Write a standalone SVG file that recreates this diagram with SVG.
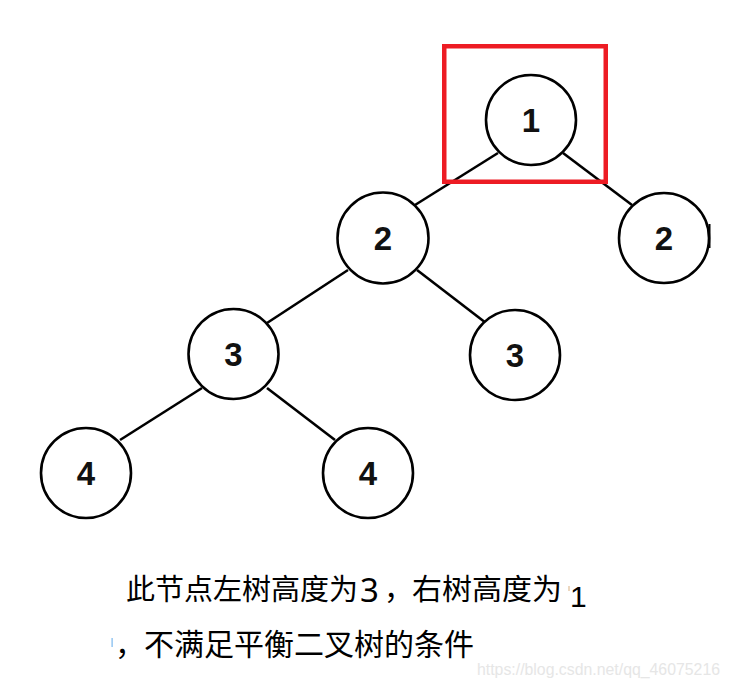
<svg xmlns="http://www.w3.org/2000/svg" width="730" height="688" viewBox="0 0 730 688">
<style>
.node circle{fill:#fff;stroke:#000;stroke-width:2.6}
.node text{font-family:"Liberation Sans",Arial,sans-serif;font-weight:bold;font-size:33px;text-anchor:middle;fill:#111}
#edges line{stroke:#000;stroke-width:2.6}
.cjk{font-family:"Noto Sans CJK SC","Noto Sans",sans-serif;fill:#000}
</style>
<rect width="730" height="688" fill="#fff"/>
<g id="edges">
<line x1="498" y1="153" x2="415" y2="205"/>
<line x1="563" y1="153" x2="632" y2="205"/>
<line x1="348" y1="270" x2="267" y2="323"/>
<line x1="417" y1="270" x2="486" y2="323"/>
<line x1="202" y1="388" x2="120" y2="440"/>
<line x1="267" y1="388" x2="335" y2="440"/>
</g>
<g id="n1" class="node"><circle cx="531" cy="120" r="45"/><text x="531" y="132">1</text></g>
<g id="n2l" class="node"><circle cx="383" cy="238" r="45.5"/><text x="383" y="250">2</text></g>
<g id="n2r" class="node"><circle cx="664" cy="238" r="45"/><text x="664" y="250">2</text></g>
<g id="n3l" class="node"><circle cx="233.5" cy="354" r="45"/><text x="233.5" y="366">3</text></g>
<g id="n3r" class="node"><circle cx="515" cy="355" r="45"/><text x="515" y="367">3</text></g>
<g id="n4l" class="node"><circle cx="86" cy="473" r="45"/><text x="86" y="485">4</text></g>
<g id="n4r" class="node"><circle cx="368" cy="473" r="45"/><text x="368" y="485">4</text></g>
<rect id="highlight" x="444.25" y="46.25" width="161.5" height="135.5" fill="none" stroke="#ED1C24" stroke-width="4.5"/>
<rect x="708.5" y="224" width="2" height="24" fill="#000"/>
<g id="caption">
<text class="cjk" x="126" y="600" font-size="29" textLength="232" lengthAdjust="spacingAndGlyphs">此节点左树高度为</text>
<text class="cjk" x="360" y="602" font-size="33" style="font-family:'Noto Sans',sans-serif">3</text>
<text class="cjk" x="384" y="600" font-size="29">，</text>
<text class="cjk" x="412" y="600" font-size="29" textLength="150" lengthAdjust="spacingAndGlyphs">右树高度为</text>
<rect x="568.5" y="586" width="1" height="5" fill="#d9b080"/>
<text x="570" y="607" font-size="30" style="font-family:'Liberation Sans',Arial,sans-serif" fill="#000">1</text>
<rect x="111.5" y="638" width="1.2" height="9" fill="#7ab8ee"/>
<text class="cjk" x="115" y="655" font-size="30">，</text>
<text class="cjk" x="144" y="655" font-size="30" textLength="330" lengthAdjust="spacingAndGlyphs">不满足平衡二叉树的条件</text>
<text x="477" y="675" font-size="16" textLength="243" lengthAdjust="spacingAndGlyphs" style="font-family:'Liberation Sans',Arial,sans-serif" fill="#e6e6e6">https://blog.csdn.net/qq_46075216</text>
</g>
</svg>
